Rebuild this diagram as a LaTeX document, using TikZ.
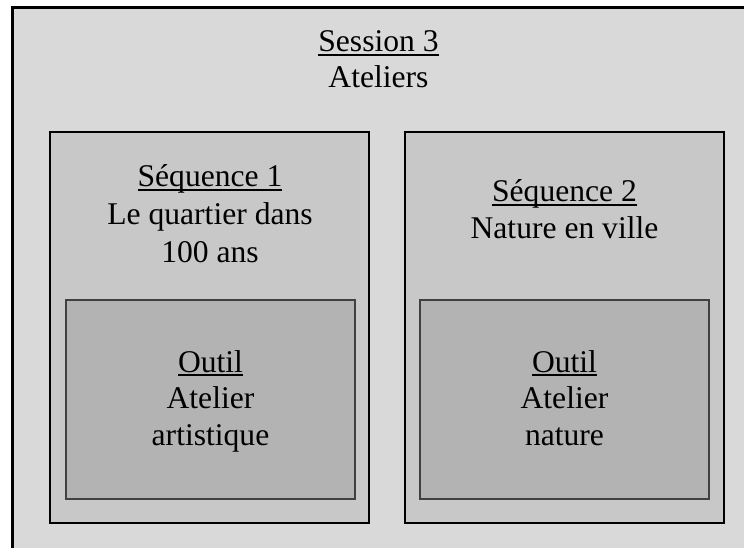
\documentclass[tikz,border=0pt]{standalone}
\usepackage{fontspec}
\setmainfont{Liberation Serif}
% underlined heading word with a fixed rule
\newcommand\ulword[1]{\setbox0\hbox{#1}\rlap{\rule[-3.6pt]{\wd0}{1.8pt}}\box0}
\definecolor{sessionfill}{HTML}{D9D9D9}
\definecolor{seqfill}{HTML}{C8C8C8}
\definecolor{toolfill}{HTML}{B3B3B3}
\definecolor{toolline}{HTML}{404040}
\tikzset{
  sessionbox/.style={draw=black, line width=3pt, fill=sessionfill},
  seqbox/.style={draw=black, line width=1.8pt, fill=seqfill},
  toolbox/.style={draw=toolline, line width=1.6pt, fill=toolfill},
  txt/.style={anchor=base, inner sep=0pt, font=\fontsize{31.6}{36}\selectfont}
}
\begin{document}
\begin{tikzpicture}[x=1pt, y=-1pt]
\useasboundingbox (0,0) rectangle (744,548);
\clip (0,0) rectangle (744,548);
\fill[white] (0,0) rectangle (744,548);

% session frame
\draw[sessionbox] (12,8) rectangle (747,552);
\node[txt] (s3a) at (378.5,52) {\ulword{Session 3}};
\node[txt] (s3b) at (378.5,88) {Ateliers};

% sequence 1
\draw[seqbox] (50,132) rectangle (369,523);
\node[txt] (q1a) at (210,187) {\ulword{Séquence 1}};
\node[txt] (q1b) at (210,224.5) {Le quartier dans};
\node[txt] (q1c) at (210,262) {100 ans};
\draw[toolbox] (66,300) rectangle (355,499);
\node[txt] (t1a) at (210.5,372) {\ulword{Outil}};
\node[txt] (t1b) at (210.5,408.5) {Atelier};
\node[txt] (t1c) at (210.5,445) {artistique};

% sequence 2
\draw[seqbox] (405,132) rectangle (724,523);
\node[txt] (q2a) at (564.5,202) {\ulword{Séquence 2}};
\node[txt] (q2b) at (564.5,238) {Nature en ville};
\draw[toolbox] (420,300) rectangle (709,499);
\node[txt] (t2a) at (564.5,372) {\ulword{Outil}};
\node[txt] (t2b) at (564.5,408.5) {Atelier};
\node[txt] (t2c) at (564.5,445) {nature};
\end{tikzpicture}
\end{document}
